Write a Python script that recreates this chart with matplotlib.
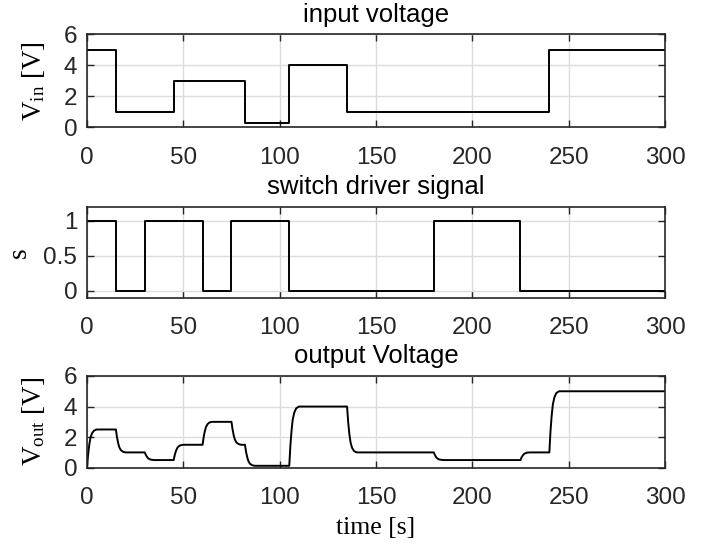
import matplotlib
matplotlib.use('Agg')
import matplotlib.pyplot as plt

# input voltage steps: (time, level)
vin_t = [0, 15, 45, 82, 105, 135, 240, 300]
vin_v = [5, 1, 3, 0.25, 4, 1, 5, 5]

# switch driver signal steps
sw_t = [0, 15, 30, 60, 75, 105, 180, 225, 300]
sw_v = [1, 0, 1, 0, 1, 0, 1, 0, 0]

# output voltage samples (time, value)
vout_t = [0, 0.6, 1.2, 1.8, 2.6, 3.6, 5,
          15, 15.6, 16.2, 16.8, 17.6, 18.6, 20,
          30, 30.6, 31.2, 31.8, 32.6, 33.6, 35,
          45, 45.6, 46.2, 46.8, 47.6, 48.6, 50,
          60, 60.6, 61.2, 61.8, 62.6, 63.6, 65,
          75, 75.6, 76.2, 76.8, 77.6, 78.6, 80,
          82, 82.6, 83.2, 83.8, 84.6, 85.6, 87,
          105, 105.6, 106.2, 106.8, 107.6, 108.6, 110,
          135, 135.6, 136.2, 136.8, 137.6, 138.6, 140,
          180, 180.6, 181.2, 181.8, 182.6, 183.6, 185,
          225, 225.6, 226.2, 226.8, 227.6, 228.6, 230,
          240, 240.6, 241.2, 241.8, 242.6, 243.6, 245,
          300]
vout_v = [0, 0.88, 1.5, 1.95, 2.25, 2.42, 2.5,
          2.5, 1.98, 1.6, 1.33, 1.15, 1.05, 1.0,
          1.0, 0.83, 0.7, 0.61, 0.55, 0.52, 0.5,
          0.5, 0.85, 1.1, 1.28, 1.4, 1.47, 1.5,
          1.5, 2.03, 2.4, 2.67, 2.85, 2.96, 3.0,
          3.0, 2.48, 2.1, 1.83, 1.65, 1.55, 1.5,
          1.5, 1.02, 0.68, 0.43, 0.26, 0.17, 0.125,
          0.125, 1.48, 2.45, 3.15, 3.61, 3.88, 4.0,
          4.0, 2.95, 2.2, 1.66, 1.3, 1.09, 1.0,
          1.0, 0.83, 0.7, 0.61, 0.55, 0.52, 0.5,
          0.5, 0.68, 0.8, 0.89, 0.95, 0.99, 1.0,
          1.0, 2.4, 3.4, 4.12, 4.6, 4.88, 5.0,
          5.0]

plt.rcParams['font.family'] = ['Liberation Sans', 'DejaVu Sans']
plt.rcParams['mathtext.fontset'] = 'custom'
plt.rcParams['mathtext.rm'] = 'Liberation Serif'
plt.rcParams['mathtext.it'] = 'Liberation Serif:italic'

fig = plt.figure(figsize=(7.14, 5.46), dpi=100)
ax1 = fig.add_axes([0.1218, 0.7668, 0.8095, 0.1703])
ax2 = fig.add_axes([0.1218, 0.4547, 0.8095, 0.1667])
ax3 = fig.add_axes([0.1218, 0.1434, 0.8095, 0.1680])

ax1.step(vin_t, vin_v, where='post', color='black', lw=1.4)
ax2.step(sw_t, sw_v, where='post', color='black', lw=1.4)
ax3.plot(vout_t, vout_v, color='black', lw=1.4)

serif = ['Liberation Serif', 'DejaVu Serif']
ax1.set_title('input voltage', fontsize=18.5, pad=9)
ax2.set_title('switch driver signal', fontsize=18.5, pad=9)
ax3.set_title('output Voltage', fontsize=18.5, pad=9)
ax1.set_ylabel(r'V$_{\mathrm{in}}$ [V]', fontsize=19.5, family=serif, labelpad=12)
ax2.set_ylabel('s', fontsize=19.5, family=serif, labelpad=8)
ax3.set_ylabel(r'V$_{\mathrm{out}}$ [V]', fontsize=19.5, family=serif, labelpad=12)
ax3.set_xlabel('time [s]', fontsize=18.5, family=serif, labelpad=6)

ax1.set_ylim(0, 6)
ax1.set_yticks([0, 2, 4, 6])
ax2.set_ylim(-0.1, 1.2)
ax2.set_yticks([0, 0.5, 1])
ax2.set_yticklabels(['0', '0.5', '1'])
ax3.set_ylim(0, 6)
ax3.set_yticks([0, 2, 4, 6])

for ax in (ax1, ax2, ax3):
    ax.set_xlim(0, 300)
    ax.set_xticks([0, 50, 100, 150, 200, 250, 300])
    ax.grid(True, color='#dcdcdc', lw=1.0)
    ax.set_axisbelow(True)
    ax.tick_params(direction='in', length=5, width=1.0, top=True, right=True,
                   labelsize=17.5, colors='#262626')
    ax.tick_params(axis='x', pad=14)
    ax.tick_params(axis='y', pad=7)
    for sp in ax.spines.values():
        sp.set_color('#262626')
        sp.set_linewidth(1.2)

fig.savefig('out.png', dpi=100)
